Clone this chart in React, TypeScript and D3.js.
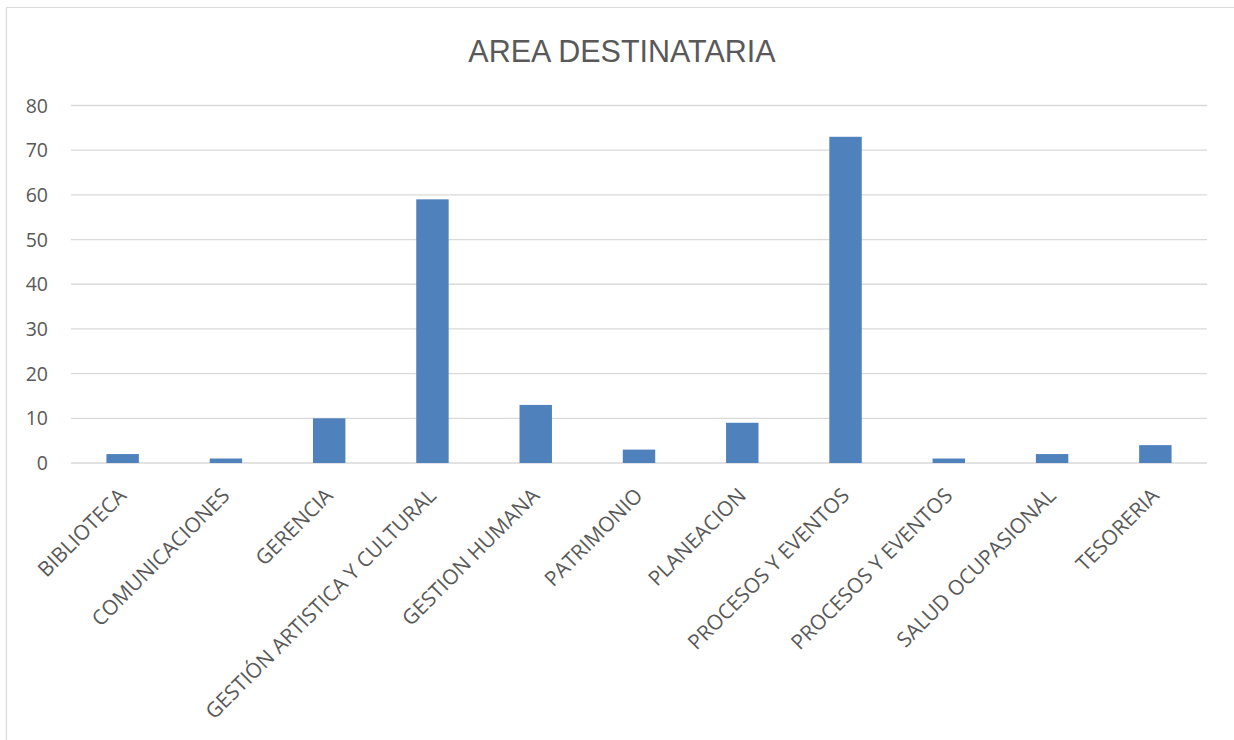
import React from "react";
import * as d3 from "d3";

const categories: string[] = [
  "BIBLIOTECA",
  "COMUNICACIONES",
  "GERENCIA",
  "GESTIÓN ARTISTICA Y CULTURAL",
  "GESTION HUMANA",
  "PATRIMONIO",
  "PLANEACION",
  "PROCESOS Y EVENTOS",
  "PROCESOS Y EVENTOS",
  "SALUD OCUPASIONAL",
  "TESORERIA",
];
const values: number[] = [2, 1, 10, 59, 13, 3, 9, 73, 1, 2, 4];
const yTicks: number[] = [0, 10, 20, 30, 40, 50, 60, 70, 80];
const title = "AREA DESTINATARIA";

const W = 1234;
const H = 740;
const left = 71;
const right = 1207;
const top = 105.5;
const bottom = 463;
const FONT = "'Open Sans', 'Liberation Sans', Arial, sans-serif";

export default function App() {
  const x = d3
    .scaleBand<number>()
    .domain(categories.map((_, i) => i))
    .range([left, right])
    .paddingInner(0.686)
    .paddingOuter(0.343);
  const y = d3.scaleLinear().domain([0, 80]).range([bottom, top]);
  const bw = x.bandwidth();

  return (
    <svg
      width={W}
      height={H}
      style={{ position: "absolute", left: 0, top: 0, display: "block", background: "#fff" }}
    >
      <rect x={0} y={0} width={W} height={H} fill="#fff" />
      {/* frame */}
      <line x1={6.5} y1={7.5} x2={W} y2={7.5} stroke="#d9d9d9" strokeWidth={1.2} />
      <line x1={6.5} y1={7.5} x2={6.5} y2={H} stroke="#d9d9d9" strokeWidth={1.2} />
      <text
        x={622}
        y={62}
        textAnchor="middle"
        fontFamily="'Liberation Sans', Arial, sans-serif"
        fontSize={30.5}
        fill="#595959"
      >
        {title}
      </text>
      {yTicks.map((t) => (
        <g key={t}>
          <line
            x1={left}
            x2={right}
            y1={y(t)}
            y2={y(t)}
            stroke="#d9d9d9"
            strokeWidth={1.3}
          />
          <text
            x={48}
            y={y(t) + 7}
            textAnchor="end"
            fontFamily={FONT}
            fontSize={19.5}
            fill="#595959"
          >
            {t}
          </text>
        </g>
      ))}
      {values.map((v, i) => (
        <rect
          key={i}
          x={x(i)!}
          y={y(v)}
          width={bw}
          height={y(0) - y(v)}
          fill="#4f81bd"
        />
      ))}
      {categories.map((c, i) => {
        const cx = x(i)! + bw / 2 + 5;
        const cy = 497;
        return (
          <text
            key={i}
            transform={`translate(${cx},${cy}) rotate(-45)`}
            textAnchor="end"
            fontFamily={FONT}
            fontSize={20.8}
            fill="#595959"
          >
            {c}
          </text>
        );
      })}
    </svg>
  );
}
